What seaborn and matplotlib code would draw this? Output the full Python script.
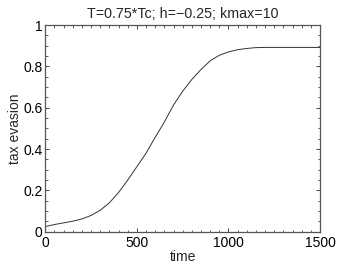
import matplotlib
matplotlib.use("Agg")
import matplotlib.pyplot as plt
import seaborn as sns
import pandas as pd
from matplotlib.ticker import MultipleLocator

time = [0, 50, 100, 150, 200, 250, 300, 350, 400, 450, 500, 550, 600, 650,
        700, 750, 800, 850, 900, 950, 1000, 1050, 1100, 1150, 1200, 1300, 1400, 1500]
evasion = [0.025, 0.035, 0.043, 0.051, 0.062, 0.079, 0.104, 0.14, 0.19, 0.25,
           0.315, 0.38, 0.457, 0.531, 0.613, 0.68, 0.737, 0.785, 0.827, 0.854,
           0.870, 0.881, 0.887, 0.891, 0.892, 0.892, 0.892, 0.892]
title = "T=0.75*Tc; h=\u22120.25; kmax=10"
xticks = [0, 500, 1000, 1500]
yticks = [0, 0.2, 0.4, 0.6, 0.8, 1]
yticklabels = ["0", "0.2", "0.4", "0.6", "0.8", "1"]

sns.set_theme(style="white")
plt.rcParams['font.family'] = ['Liberation Sans', 'DejaVu Sans']
plt.rcParams['axes.unicode_minus'] = True

fig = plt.figure(figsize=(3.54, 2.67), dpi=100)
ax = fig.add_axes([0.128, 0.132, 0.776, 0.774])
df = pd.DataFrame({"time": time, "tax evasion": evasion})
sns.lineplot(data=df, x="time", y="tax evasion", ax=ax, color="#333333", linewidth=0.7)

ax.set_xlim(0, 1500)
ax.set_ylim(0, 1)
ax.set_xticks(xticks)
ax.set_xticklabels([str(v) for v in xticks])
ax.set_yticks(yticks)
ax.set_yticklabels(yticklabels)
ax.xaxis.set_minor_locator(MultipleLocator(50))
ax.yaxis.set_minor_locator(MultipleLocator(0.05))
ax.tick_params(which="both", direction="in", top=True, right=True, bottom=True, left=True,
               colors="#444444", labelcolor="black", labelsize=10)
ax.tick_params(axis="x", pad=3)
ax.tick_params(axis="y", pad=2)
ax.tick_params(which="major", length=3, width=0.7)
ax.tick_params(which="minor", length=1.8, width=0.6)
for s in ax.spines.values():
    s.set_color("#555555")
    s.set_linewidth(0.9)
ax.set_xlabel("time", fontsize=10, labelpad=0)
ax.set_ylabel("tax evasion", fontsize=10, labelpad=1)
ax.set_title(title, fontsize=10.3, pad=5)
fig.savefig("out.png", dpi=100)
